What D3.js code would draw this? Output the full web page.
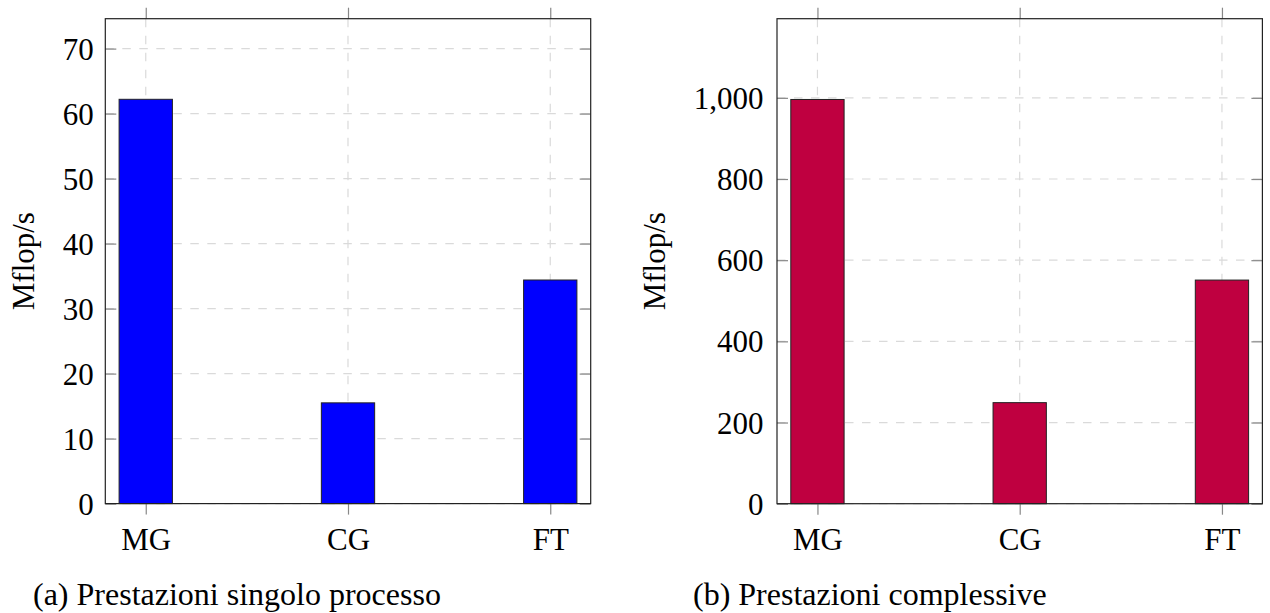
<!DOCTYPE html>
<html>
<head>
<meta charset="utf-8">
<script src="https://cdn.jsdelivr.net/npm/d3@7"></script>
<style>
  html, body { margin: 0; padding: 0; background: #fff; }
  svg { display: block; }
  text { font-family: "Liberation Serif", "DejaVu Serif", serif; fill: #000; }
</style>
</head>
<body>
<svg id="chart" width="1270" height="613"></svg>
<script>
// ---- data ----
const categories = ["MG", "CG", "FT"];
const singleValues = [62.2, 15.5, 34.4];
const totalValues = [996, 249, 551];
const singleTicks = [0, 10, 20, 30, 40, 50, 60, 70];
const totalTicks = [0, 200, 400, 600, 800, 1000];
const singleMax = 74.6;
const totalMax = 1195;
const yLabel = "Mflop/s";
const captions = ["(a) Prestazioni singolo processo", "(b) Prestazioni complessive"];
const colors = ["#0000ff", "#bf0040"];

const svg = d3.select("#chart");
const FONT = 31;
const CAPFONT = 32;

function panel(opts) {
  const { left, top, width, height, values, ticks, ymax, color, fmt, labelX, caption, captionX, ypad } = opts;
  const g = svg.append("g").attr("transform", `translate(${left},${top})`);
  const x = d3.scaleLinear().domain([-0.2, categories.length - 1 + 0.2]).range([0, width]);
  const y = d3.scaleLinear().domain([0, ymax]).range([height, 0]);
  const barW = 53.3;

  // grid
  const dash = "8.5,8.5";
  g.append("g").selectAll("line").data(ticks).join("line")
    .attr("x1", 0).attr("x2", width)
    .attr("y1", d => y(d)).attr("y2", d => y(d))
    .attr("stroke", "#dadada").attr("stroke-width", 1.2).attr("stroke-dasharray", dash);
  g.append("g").selectAll("line").data(categories).join("line")
    .attr("x1", (d, i) => x(i)).attr("x2", (d, i) => x(i))
    .attr("y1", 0).attr("y2", height)
    .attr("stroke", "#dadada").attr("stroke-width", 1.2).attr("stroke-dasharray", dash);

  // bars
  g.append("g").selectAll("rect").data(values).join("rect")
    .attr("x", (d, i) => x(i) - barW / 2)
    .attr("width", barW)
    .attr("y", d => y(d))
    .attr("height", d => y(0) - y(d))
    .attr("fill", color)
    .attr("stroke", "#222").attr("stroke-width", 1);

  // y axis (ticks inside on both sides)
  const yAxisL = d3.axisLeft(y).tickValues(ticks).tickSize(-11).tickPadding(ypad).tickFormat(fmt);
  const gyl = g.append("g").call(yAxisL);
  gyl.select(".domain").remove();
  gyl.selectAll(".tick line").attr("stroke", "#888").attr("stroke-width", 1.2);
  gyl.selectAll(".tick text").style("font-size", FONT + "px").attr("dy", "0.34em")
    .style("font-family", '"Liberation Serif", serif');

  const yAxisR = d3.axisRight(y).tickValues(ticks).tickSize(-11).tickFormat("");
  const gyr = g.append("g").attr("transform", `translate(${width},0)`).call(yAxisR);
  gyr.select(".domain").remove();
  gyr.selectAll(".tick line").attr("stroke", "#888").attr("stroke-width", 1.2);

  // x axis (ticks outside top and bottom)
  const xAxisB = d3.axisBottom(x).tickValues(d3.range(categories.length)).tickSize(11).tickPadding(13.5)
    .tickFormat(i => categories[i]);
  const gxb = g.append("g").attr("transform", `translate(0,${height})`).call(xAxisB);
  gxb.select(".domain").remove();
  gxb.selectAll(".tick line").attr("stroke", "#888").attr("stroke-width", 1.2);
  gxb.selectAll(".tick text").style("font-size", FONT + "px")
    .style("font-family", '"Liberation Serif", serif');

  const xAxisT = d3.axisTop(x).tickValues(d3.range(categories.length)).tickSize(11).tickFormat("");
  const gxt = g.append("g").call(xAxisT);
  gxt.select(".domain").remove();
  gxt.selectAll(".tick line").attr("stroke", "#888").attr("stroke-width", 1.2);

  // box
  g.append("rect").attr("x", 0).attr("y", 0).attr("width", width).attr("height", height)
    .attr("fill", "none").attr("stroke", "#222").attr("stroke-width", 1.2);

  // y label
  svg.append("text")
    .attr("transform", `translate(${labelX},${top + height / 2}) rotate(-90)`)
    .attr("text-anchor", "middle")
    .style("font-size", FONT + "px")
    .text(yLabel);

  // caption
  svg.append("text")
    .attr("x", captionX).attr("y", 605)
    .style("font-size", CAPFONT + "px")
    .text(caption);
}

panel({ left: 105.3, top: 18.7, width: 485.4, height: 484.9, values: singleValues, ticks: singleTicks,
  ymax: singleMax, color: colors[0], fmt: d3.format("d"), labelX: 34, caption: captions[0], captionX: 33, ypad: 11.5 });
panel({ left: 777, top: 18.7, width: 485.4, height: 485.0, values: totalValues, ticks: totalTicks,
  ymax: totalMax, color: colors[1], fmt: d3.format(","), labelX: 665, caption: captions[1], captionX: 693, ypad: 13.5 });
</script>
</body>
</html>
